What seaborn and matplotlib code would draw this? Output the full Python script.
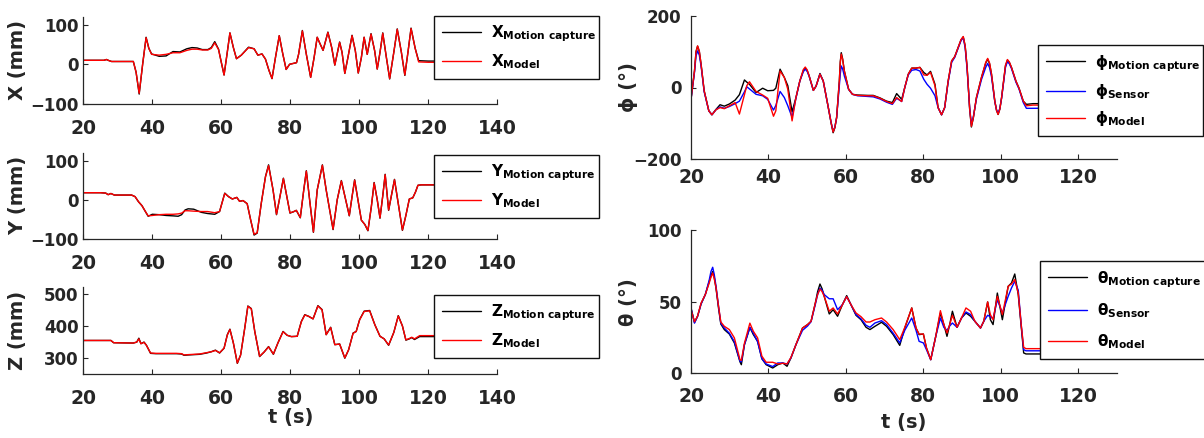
import matplotlib
matplotlib.use("Agg")
import matplotlib.pyplot as plt
import seaborn as sns

# ---------------- X position (mm) ----------------
t_x = [20, 26, 26.7, 27.5, 28.2, 34.5, 35.3, 36.2, 37.2, 38.2, 39.0, 39.8, 42, 44, 46, 48, 50,
       51.5, 53, 54.5, 56.1, 57.1, 58.1, 59.2, 60.0, 60.8, 61.65, 62.5, 63.5, 64.4, 65.8, 67.9,
       69.5, 70.6, 71.8, 72.8, 73.8, 74.7, 75.7, 76.8, 77.8, 78.8, 79.8, 81.8, 82.4, 83.5, 84.65,
       85.9, 86.9, 87.8, 88.6, 89.5, 90.9, 92.0, 92.9, 94.3, 95.0, 95.8, 96.7, 97.9, 98.85, 99.7,
       100.6, 101.4, 102.3, 103.4, 104.45, 105.2, 106.0, 106.8, 107.8, 108.8, 110.0, 111.0, 112.2,
       113.2, 114.1, 115.0, 116.2, 117.2, 120, 125]
x_mocap = [10, 10, 12, 9, 7, 7, -20, -75, 0, 68, 40, 26, 20, 21, 32, 31, 39,
           42, 41, 37, 37, 42, 57, 38, 5, -27, 25, 79, 42, 14, 23, 43,
           39, 23, 26, 13, -15, -36, 17, 72, 27, -13, 0, 4, 25, 85, 25,
           -33, 17, 68, 52, 35, 81, 42, -2, 56, 30, -23, 17, 73, 34, -22,
           17, 68, 25, 77, 34, -12, 30, 79, 20, -37, 30, 89, 30,
           -28, 30, 91, 40, 9, 8, 8]
x_model = [10, 10, 12, 9, 7, 7, -20, -73, 0, 67, 40, 25, 23, 25, 29, 29, 35,
           38, 38, 36, 36, 40, 54, 37, 5, -27, 25, 79, 42, 14, 23, 42,
           39, 23, 26, 13, -15, -36, 17, 72, 27, -13, 0, 4, 25, 84, 25,
           -33, 17, 68, 52, 35, 80, 42, -2, 55, 30, -23, 17, 72, 34, -22,
           17, 68, 25, 76, 34, -12, 30, 78, 20, -36, 30, 88, 30,
           -27, 30, 90, 40, 6, 5, 5]

# ---------------- Y position (mm) ----------------
t_y = [20, 25, 26.5, 27.2, 28.0, 29.0, 34.0, 35.0, 36.0, 37.0, 38.0, 38.8, 40.0, 42, 44, 46,
       47.5, 48.5, 49.5, 50.4, 52, 54.2, 56, 58.1, 59.5, 61.0, 62.1, 63.2, 64.5, 65.3, 66.3,
       67.5, 68.5, 69.5, 70.4, 71.6, 72.8, 73.7, 75.0, 76.0, 77.0, 78.0, 79.0, 79.9, 80.8,
       81.75, 82.9, 83.9, 84.65, 85.6, 86.7, 87.8, 89.3, 90.4, 92.4, 93.6, 94.8, 95.95, 97.1,
       97.9, 98.65, 99.6, 100.6, 101.6, 102.5, 103.5, 104.3, 105.2, 106.0, 106.8, 107.5, 108.5,
       109.4, 110.2, 111.3, 112.5, 113.5, 114.5, 115.5, 116.3, 117.0, 118, 125]
y_mocap = [18, 18, 17, 13, 16, 12, 12, 8, -5, -15, -30, -42, -37, -38, -40, -41,
           -42, -38, -26, -23, -24, -32, -35, -37, -30, 17, 8, 2, 6, -4, -2,
           -10, -51, -90, -85, -8, 59, 89, 25, -38, 8, 55, 8, -34, -31,
           -27, -46, 25, 74, 0, -83, 25, 89, 25, -76, 0, 49, 4, -41,
           8, 51, 0, -52, -63, -79, -17, 44, 0, -47, 10, 65, -27,
           15, 52, -10, -78, -40, 2, 5, 20, 37, 38, 38]
y_model = [18, 18, 17, 13, 16, 12, 12, 8, -5, -15, -30, -41, -40, -38, -37, -37,
           -36, -34, -28, -28, -29, -30, -30, -33, -30, 16, 8, 2, 6, -4, -2,
           -10, -51, -88, -84, -8, 58, 87, 25, -37, 8, 54, 8, -33, -31,
           -27, -45, 25, 73, 0, -82, 25, 88, 25, -75, 0, 48, 4, -40,
           8, 50, 0, -52, -63, -78, -17, 43, 0, -46, 10, 64, -26,
           15, 51, -10, -77, -40, 2, 5, 20, 37, 38, 38]

# ---------------- Z position (mm) ----------------
t_z = [20, 28, 28.8, 34.5, 35.5, 36.1, 36.7, 37.6, 38.3, 39.5, 41, 47, 48.5, 49.2, 50.35,
       53.7, 55.7, 57.1, 58.3, 59.5, 60.8, 61.75, 62.5, 63.5, 64.65, 65.6, 66.8, 67.7, 68.7,
       69.7, 71.1, 72.4, 73.7, 75.1, 76.4, 77.9, 79.1, 80.3, 82.0, 83.2, 84.2, 85.3, 86.6,
       88.0, 89.2, 90.4, 91.7, 92.9, 94.3, 95.8, 96.9, 98.2, 99.1, 100.1, 101.4, 103.0, 104.5,
       106.0, 107.2, 108.5, 110.0, 111.3, 112.5, 113.5, 114.5, 115.2, 116.0, 117.5, 125]
z_mocap = [355, 355, 348, 347, 350, 362, 345, 350, 340, 315, 314, 314, 313, 309, 310,
           312, 316, 320, 325, 316, 331, 373, 390, 347, 284, 310, 394, 462, 454,
           383, 305, 319, 336, 312, 347, 383, 371, 367, 368, 414, 435, 430, 422,
           463, 451, 373, 396, 342, 344, 300, 326, 378, 383, 420, 446, 448, 404,
           368, 360, 340, 380, 432, 400, 356, 360, 364, 358, 367, 367]
z_model = [355, 355, 348, 347, 350, 360, 345, 349, 340, 316, 315, 315, 314, 310, 311,
           313, 317, 320, 324, 317, 331, 372, 389, 347, 285, 310, 393, 461, 453,
           383, 306, 319, 335, 313, 347, 382, 371, 367, 368, 413, 434, 430, 422,
           462, 450, 373, 395, 342, 344, 301, 326, 377, 383, 419, 445, 447, 404,
           368, 360, 341, 380, 431, 400, 357, 361, 365, 360, 370, 370]

# ---------------- phi angle (deg) ----------------
t_phi = [20.0, 20.9, 21.3, 21.7, 22.15, 22.6, 23.4, 24.6, 25.4, 26.45, 27.5, 28.6, 29.9, 31.4,
         32.5, 33.8, 34.4, 35.1, 36.8, 38.5, 39.8, 41.3, 41.9, 43.0, 44.1, 45.0, 46.1, 47.1,
         48.1, 49.0, 49.5, 50.0, 50.5, 51.6, 52.3, 53.3, 54.15, 55.3, 56.2, 56.7, 57.15, 57.6,
         58.3, 58.55, 58.8, 59.15, 59.6, 60.7, 61.7, 63.0, 65.7, 67.05, 68.8, 70.5, 72.0, 73.1,
         74.4, 75.2, 76.1, 77.0, 78.1, 79.1, 80.1, 80.95, 81.85, 83.0, 83.8, 84.7, 85.5, 86.4,
         87.3, 88.1, 89.0, 89.7, 90.3, 90.8, 91.3, 91.95, 92.4, 92.9, 93.7, 95.0, 96.1, 96.6,
         97.1, 97.6, 98.45, 98.9, 99.3, 99.75, 100.2, 101.2, 101.7, 102.2, 102.75, 103.9, 104.7,
         105.8, 106.6, 108.3, 130]
phi_mocap = [-33, 46, 100, 115, 100, 65, -9, -65, -76, -61, -48, -52, -46, -35,
             -20, 21, 15, 9, -14, -2, -9, -8, -2, 51, 28, 5, -68, -28,
             18, 47, 54, 47, 32, -8, 4, 39, 18, -47, -100, -126, -112, -84,
             18, 72, 97, 80, 46, -5, -19, -21, -22, -22, -29, -38, -42, -17,
             -33, 0, 37, 54, 54, 56, 42, 35, 45, 9, -56, -76, -56, 18,
             74, 86, 112, 132, 141, 115, 56, -60, -110, -85, -28, 28, 68, 79,
             66, 37, -38, -64, -75, -60, -28, 60, 76, 70, 56, 18, -2,
             -38, -47, -45, -45]
phi_sensor = [-33, 42, 88, 102, 90, 60, -12, -65, -76, -62, -54, -58, -53, -45,
              -38, -12, 2, -4, -19, -23, -33, -63, -50, -11, -28, -51, -83, -30,
              18, 44, 51, 45, 32, -8, 4, 37, 18, -47, -98, -122, -110, -84,
              5, 38, 60, 52, 32, -5, -19, -23, -25, -26, -32, -41, -47, -30,
              -39, 0, 35, 48, 50, 46, 23, 9, -2, -23, -56, -76, -56, 15,
              70, 84, 110, 130, 139, 110, 50, -55, -102, -82, -32, 22, 56, 67,
              55, 30, -40, -62, -72, -58, -30, 56, 72, 66, 53, 15, -4,
              -42, -58, -58, -56]
phi_model = [-33, 46, 100, 116, 101, 65, -9, -65, -76, -62, -56, -59, -51, -42,
             -74, -20, 5, 16, -11, -21, -30, -80, -65, 46, 28, -5, -93, -28,
             18, 50, 57, 49, 33, -8, 4, 37, 18, -47, -99, -124, -111, -84,
             18, 70, 93, 78, 46, -5, -19, -22, -23, -23, -30, -39, -45, -28,
             -39, 0, 37, 54, 54, 56, 35, 34, 42, 5, -56, -76, -56, 18,
             74, 86, 112, 133, 142, 116, 56, -58, -108, -84, -28, 28, 70, 81,
             68, 37, -38, -64, -75, -60, -28, 62, 78, 71, 56, 18, -2,
             -38, -51, -49, -49]

# ---------------- theta angle (deg) ----------------
t_th = [20.0, 20.9, 21.7, 22.6, 23.7, 24.7, 25.15, 25.6, 26.0, 26.45, 27.1, 27.7, 28.6, 29.9,
        31.2, 32.65, 33.0, 33.8, 35.2, 36.1, 37.2, 38.3, 39.4, 41.1, 42.4, 43.7, 44.8, 45.8,
        47.1, 48.8, 50.1, 51.0, 52.1, 52.7, 53.3, 53.85, 54.4, 55.7, 56.7, 57.85, 59.1, 60.2,
        61.3, 62.6, 63.9, 65.2, 66.2, 67.5, 69.2, 70.5, 72.2, 73.9, 75.2, 77.0, 78.1, 78.9,
        80.0, 80.8, 81.9, 83.2, 84.4, 85.3, 86.1, 86.8, 87.5, 88.7, 89.85, 91.0, 92.2, 93.3,
        94.75, 95.6, 96.6, 97.3, 98.0, 99.1, 100.4, 101.9, 102.75, 103.6, 104.5, 105.3, 105.9,
        106.5, 130]
th_mocap = [45.6, 35.5, 39.8, 48.4, 55, 64, 68, 71, 67, 59.5, 45.6, 34.4, 30.5, 27.4,
            21.2, 8, 6, 20, 32, 27, 22.3, 10.2, 6, 3.7, 6, 7.2, 4.9, 10.7,
            20, 31.6, 34, 36.3, 49, 57, 62.3, 59, 53.7, 41.4, 44.4, 39.8, 47.9, 54.2,
            47.9, 40.5, 37.4, 32.1, 30.5, 32.8, 35.6, 32.8, 27, 19.5, 31.6, 45.6, 31.6, 27,
            27.4, 17.7, 9.5, 25.8, 42.1, 34, 25.8, 34, 43.3, 32.1, 38.6, 42.1, 39.8, 36.3,
            31.6, 36.3, 49.8, 37.4, 34, 56, 37.4, 60.7, 63, 69.3, 54.9, 31.6, 14.2,
            13.5, 13.5]
th_sensor = [45.6, 35, 39.8, 48.4, 55, 65, 71, 74, 69, 61, 47, 35, 31.6, 28,
             22, 8.4, 8, 20, 32, 28, 22, 10.2, 6.5, 4.7, 7.2, 7.2, 6.5, 10.7,
             20, 30, 33, 36, 48, 55, 59.5, 58, 54.9, 52, 52, 44.4, 47.9, 53.5,
             47.9, 41, 38, 33.5, 32.1, 35.1, 36.7, 34, 28, 21.2, 30, 38.6, 30, 22.3,
             21.2, 16.5, 9.5, 25.8, 38.6, 32, 30, 33, 35.1, 32.1, 38.6, 42.8, 41, 36.3,
             31.6, 36.3, 40.5, 39.5, 38.1, 51.4, 42.1, 53.7, 59.5, 64.2, 58, 33, 16.5,
             15.7, 15.7]
th_model = [44.4, 36, 40, 49, 55, 63, 67, 70, 66, 60, 47, 35.8, 32.8, 30.5,
            24.7, 9.5, 9, 21, 35, 29.3, 24.7, 12, 7.7, 7.7, 6.5, 7, 6.5, 11,
            20, 31.6, 34, 36.3, 49, 55, 58.8, 57, 53.7, 43.3, 45.6, 41.4, 47.9, 53.5,
            47.9, 42.1, 39.5, 35.8, 35.8, 37.4, 38.6, 35.8, 30.5, 23.5, 32, 45.6, 31.6, 27.4,
            27.4, 17.7, 9.5, 25.8, 43.7, 34, 28.1, 34, 40.5, 32.1, 38.6, 45.6, 43.3, 36.3,
            31.6, 36.3, 49.8, 41, 37.4, 53.7, 41, 60.7, 62.3, 65.4, 56, 33, 18.1,
            17.2, 17.2]

INK = "#262626"
DPI = 100
W, H = 1204, 438

sns.set_theme(style="ticks")
plt.rcParams["font.family"] = ["DejaVu Sans"]
plt.rcParams["font.weight"] = "bold"
plt.rcParams["axes.labelweight"] = "bold"
plt.rcParams["mathtext.fontset"] = "dejavusans"

fig = plt.figure(figsize=(W / DPI, H / DPI), dpi=DPI)


def px_axes(left, top, right, bottom):
    return fig.add_axes([left / W, 1 - bottom / H, (right - left) / W, (bottom - top) / H])


def style_axes(ax, xlim, xticks, ylim, yticks, ylabel, ylab_x, xpad, ypad, xlabel=None, xlab_y=None):
    ax.set_xlim(*xlim)
    ax.set_ylim(*ylim)
    ax.set_xticks(xticks)
    ax.set_yticks(yticks)
    for side in ("top", "right"):
        ax.spines[side].set_visible(False)
    for side in ("left", "bottom"):
        ax.spines[side].set_color(INK)
        ax.spines[side].set_linewidth(0.9)
    ax.tick_params(axis="both", direction="in", length=3.5, width=0.8, color=INK, labelcolor=INK)
    ax.tick_params(axis="x", labelsize=13.5, pad=xpad)
    ax.tick_params(axis="y", labelsize=12, pad=ypad)
    for lab in ax.get_xticklabels() + ax.get_yticklabels():
        lab.set_fontweight("bold")
    ax.set_ylabel(ylabel, fontsize=14, color=INK, fontweight="bold")
    ax.yaxis.set_label_coords(ylab_x, 0.5)
    if xlabel:
        ax.set_xlabel(xlabel, fontsize=14, color=INK, fontweight="bold")
        ax.xaxis.set_label_coords(0.5, xlab_y)
    else:
        ax.set_xlabel("")


def add_legend(ax, left, top, width, handles, labels, spacing=0.55):
    leg = ax.legend(handles, labels, loc="upper left",
                    bbox_to_anchor=(left / W, 1 - top / H, width / W, 0.001),
                    bbox_transform=fig.transFigure, mode="expand",
                    frameon=True, fancybox=False, framealpha=1, edgecolor="#111111",
                    fontsize=11, borderpad=0.5, handlelength=2.55, handletextpad=0.65,
                    labelspacing=spacing, borderaxespad=0)
    leg.get_frame().set_linewidth(1.0)
    for txt in leg.get_texts():
        txt.set_color("#000000")
    return leg


def draw(ax, t, series):
    for vals, color in series:
        sns.lineplot(x=t, y=vals, ax=ax, color=color, linewidth=1.0,
                     sort=False, estimator=None, legend=False)
    return ax.get_lines()


# Left column: X, Y, Z
ax_x = px_axes(83.3, 16.6, 497.3, 104)
ax_y = px_axes(83.3, 152.7, 497.3, 239)
ax_z = px_axes(83.3, 287.3, 497.3, 374.3)

lines = draw(ax_x, t_x, [(x_mocap, "black"), (x_model, "red")])
style_axes(ax_x, (20, 140), range(20, 141, 20), (-100, 120), [-100, 0, 100], "X (mm)", -0.136, 10.5, 3.5)
add_legend(ax_x, 434, 16, 165, lines,
           [r"$\mathbf{X}_{\mathbf{Motion\ capture}}$", r"$\mathbf{X}_{\mathbf{Model}}$"])

lines = draw(ax_y, t_y, [(y_mocap, "black"), (y_model, "red")])
style_axes(ax_y, (20, 140), range(20, 141, 20), (-100, 120), [-100, 0, 100], "Y (mm)", -0.136, 10.5, 3.5)
add_legend(ax_y, 434, 155, 165, lines,
           [r"$\mathbf{Y}_{\mathbf{Motion\ capture}}$", r"$\mathbf{Y}_{\mathbf{Model}}$"])

lines = draw(ax_z, t_z, [(z_mocap, "black"), (z_model, "red")])
style_axes(ax_z, (20, 140), range(20, 141, 20), (250, 520), [300, 400, 500], "Z (mm)", -0.136, 10.5, 3.5,
           xlabel="t (s)", xlab_y=-0.39)
add_legend(ax_z, 434, 295, 165, lines,
           [r"$\mathbf{Z}_{\mathbf{Motion\ capture}}$", r"$\mathbf{Z}_{\mathbf{Model}}$"])

# Right column: phi, theta
ax_p = px_axes(691, 15.7, 1117, 159.3)
ax_t = px_axes(691, 230, 1117, 373.3)

lines = draw(ax_p, t_phi, [(phi_mocap, "black"), (phi_sensor, "blue"), (phi_model, "red")])
style_axes(ax_p, (20, 130), range(20, 121, 20), (-200, 200), [-200, 0, 200], "ϕ (°)", -0.1235, 6.5, 7)
add_legend(ax_p, 1038, 45.7, 165, lines,
           [r"$\mathrm{\phi}_{\mathbf{Motion\ capture}}$", r"$\mathrm{\phi}_{\mathbf{Sensor}}$",
            r"$\mathrm{\phi}_{\mathbf{Model}}$"])

lines = draw(ax_t, t_th, [(th_mocap, "black"), (th_sensor, "blue"), (th_model, "red")])
style_axes(ax_t, (20, 130), range(20, 121, 20), (0, 100), [0, 50, 100], "θ (°)", -0.1235, 10, 7,
           xlabel="t (s)", xlab_y=-0.277)
add_legend(ax_t, 1040, 261.7, 165, lines,
           [r"$\mathrm{\theta}_{\mathbf{Motion\ capture}}$", r"$\mathrm{\theta}_{\mathbf{Sensor}}$",
            r"$\mathrm{\theta}_{\mathbf{Model}}$"], spacing=0.8)

fig.savefig("out.png", dpi=DPI)
